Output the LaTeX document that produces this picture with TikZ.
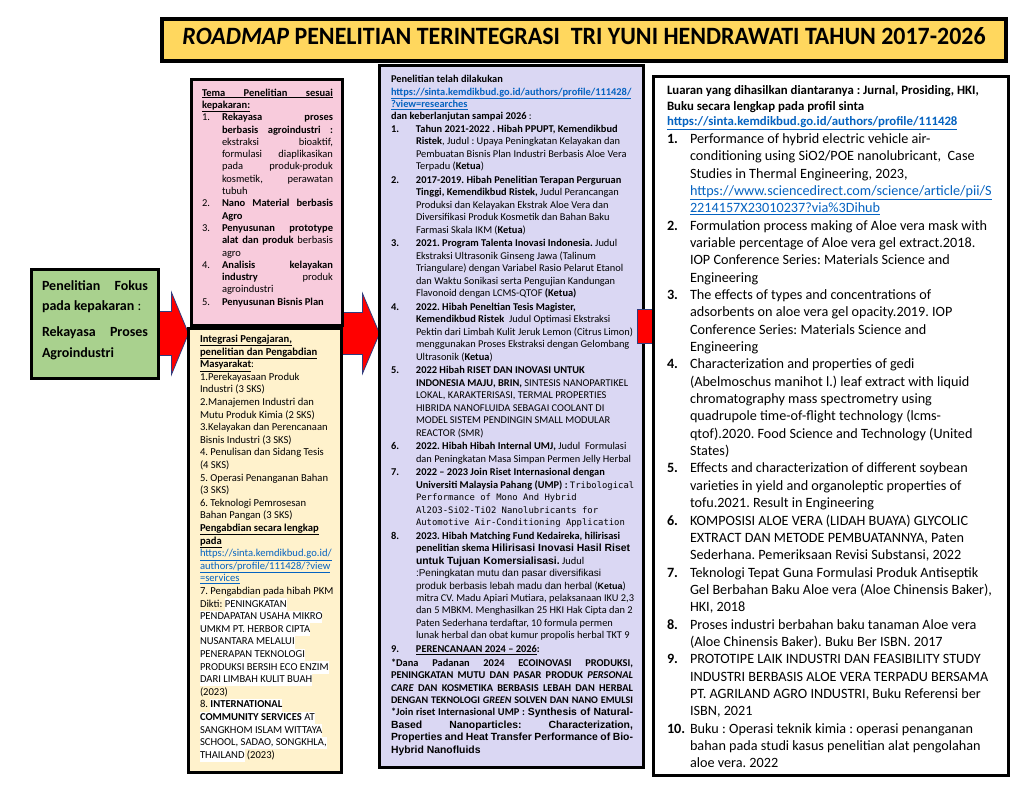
\documentclass[tikz,border=0pt]{standalone}
\usepackage{fontspec}
\setmainfont{Carlito}
\newfontfamily\arialtxt{Liberation Sans}
\newfontfamily\monotxt{DejaVu Sans Mono}
\usepackage{graphicx}
\usepackage{tikz}
\usetikzlibrary{calc,backgrounds}
\definecolor{TitleGold}{HTML}{FFD75E}
\definecolor{FocusGreen}{HTML}{A9D18E}
\definecolor{TemaPink}{HTML}{F8CBDC}
\definecolor{IntegYellow}{HTML}{FFF2CC}
\definecolor{RisetLav}{HTML}{DAD7F3}
\definecolor{ArrRed}{HTML}{FF0000}
\definecolor{ArrEdge}{HTML}{2F3C7E}
\definecolor{LinkBlue}{HTML}{0563C1}
\setlength{\parindent}{0pt}
\frenchspacing
\newcommand{\natsp}{\spaceskip=0pt\xspaceskip=0pt\relax}
\newcommand{\lnk}[1]{\textcolor{LinkBlue}{\underline{#1}}}
\newcommand{\nb}[2][20pt]{\makebox[#1][l]{#2}}
\newcommand{\jl}[2]{\makebox[#1][s]{#2}}
\newcommand{\hlw}[1]{{\setlength{\fboxsep}{0pt}\colorbox{white}{\strut#1}}}
\newcommand{\arB}[1]{{\arialtxt\bfseries\fontsize{10.4}{\baselineskip}\selectfont #1}}
\newcommand{\arR}[1]{{\arialtxt\fontsize{10}{\baselineskip}\selectfont #1}}
\newcommand{\arK}[1]{{\arialtxt\bfseries\fontsize{9}{\baselineskip}\selectfont #1}}
\newcommand{\mono}[1]{{\monotxt\fontsize{8.9}{\baselineskip}\selectfont #1}}

\begin{document}
\begin{tikzpicture}[
  x=1pt, y=-1pt,
  box/.style={draw=black,line width=3pt,inner sep=0pt,outer sep=0pt,anchor=north west},
  txt/.style={inner sep=0pt,outer sep=0pt,align=flush left,anchor=north west},
  blockarr/.style={fill=ArrRed,draw=ArrEdge,line width=0.8pt,line join=miter},
  pics/bigarrow/.style n args={3}{code={
    \draw[blockarr] (0,0) -- (-17,-#3) -- (-17,-#2) -- (-17-#1,-#2) -- (-17-#1,#2) -- (-17,#2) -- (-17,#3) -- cycle;
  }}
]
\useasboundingbox (0,0) rectangle (1024,791);

% title bar
\node[box,line width=4pt,fill=TitleGold,minimum width=844pt,minimum height=42pt] (title) at (162,19) {};
\node[inner sep=0pt,font=\bfseries] (titletxt) at ([yshift=4pt]title.center)
  {\resizebox{803pt}{17pt}{\textit{ROADMAP} PENELITIAN TERINTEGRASI\ \ TRI YUNI HENDRAWATI TAHUN 2017-2026}};

% focus
\node[box,fill=FocusGreen,minimum width=127pt,minimum height=109pt] (focus) at (31.5,269.5) {};
\node[txt,text width=120pt,font=\fontsize{14}{20.5}\selectfont\bfseries] (focustxt) at ([xshift=10.5pt,yshift=-11pt]focus.north west)
  {\natsp\jl{106pt}{Penelitian Fokus}\\
   pada kepakaran \textmd{:}\\[5.5pt]
   \jl{106pt}{Rekayasa Proses}\\
   Agroindustri};

% tema penelitian
\node[box,fill=TemaPink,minimum width=151pt,minimum height=246pt] (tema) at (191.5,79.5) {};
\node[txt,text width=150pt,font=\fontsize{10.5}{12.3}\selectfont] (tematxt) at ([xshift=10.5pt,yshift=-9.3pt]tema.north west)
  {\natsp\underline{\jl{131pt}{\textbf{Tema Penelitian sesuai}}}\\
   \underline{\textbf{kepakaran:}}\\
   \nb{1.}\jl{111pt}{\textbf{Rekayasa proses}}\\
   \nb{}\jl{111pt}{\textbf{berbasis agroindustri :}}\\
   \nb{}\jl{111pt}{ekstraksi bioaktif,}\\
   \nb{}\jl{111pt}{formulasi diaplikasikan}\\
   \nb{}\jl{111pt}{pada produk-produk}\\
   \nb{}\jl{111pt}{kosmetik, perawatan}\\
   \nb{}tubuh\\
   \nb{2.}\jl{111pt}{\textbf{Nano Material berbasis}}\\
   \nb{}\textbf{Agro}\\
   \nb{3.}\jl{111pt}{\textbf{Penyusunan prototype}}\\
   \nb{}\jl{111pt}{\textbf{alat dan produk} berbasis}\\
   \nb{}agro\\
   \nb{4.}\jl{111pt}{\textbf{Analisis kelayakan}}\\
   \nb{}\jl{111pt}{\textbf{industry} produk}\\
   \nb{}agroindustri\\
   \nb{5.}\textbf{Penyusunan Bisnis Plan}};

% integrasi
\node[box,fill=IntegYellow,minimum width=153pt,minimum height=444pt] (integ) at (188.5,328.5) {};
\node[txt,text width=150pt,font=\fontsize{10.6}{12.6}\selectfont] (integtxt) at ([xshift=11.5pt,yshift=-6.5pt]integ.north west)
  {\natsp\underline{\textbf{Integrasi Pengajaran,}}\\
   \underline{\textbf{penelitian dan Pengabdian}}\\
   \underline{\textbf{Masyarakat}}:\\
   1.Perekayasaan Produk\\
   Industri (3 SKS)\\
   2.Manajemen Industri dan\\
   Mutu Produk Kimia (2 SKS)\\
   3.Kelayakan dan Perencanaan\\
   Bisnis Industri (3 SKS)\\
   4. Penulisan dan Sidang Tesis\\
   (4 SKS)\\
   5. Operasi Penanganan Bahan\\
   (3 SKS)\\
   6. Teknologi Pemrosesan\\
   Bahan Pangan (3 SKS)\\
   \underline{\textbf{Pengabdian secara lengkap}}\\
   \underline{\textbf{pada}}\\
   \lnk{https://sinta.kemdikbud.go.id/}\\
   \lnk{authors/profile/111428/?view}\\
   \lnk{=services}\\
   7. Pengabdian pada hibah PKM\\
   Dikti: \hlw{PENINGKATAN}\\
   \hlw{PENDAPATAN USAHA MIKRO}\\
   \hlw{UMKM PT. HERBOR CIPTA}\\
   \hlw{NUSANTARA MELALUI}\\
   \hlw{PENERAPAN TEKNOLOGI}\\
   \hlw{PRODUKSI BERSIH ECO ENZIM}\\
   \hlw{DARI LIMBAH KULIT BUAH}\\
   (2023)\\
   8. \hlw{\textbf{INTERNATIONAL}}\\
   \hlw{\textbf{COMMUNITY SERVICES} AT}\\
   \hlw{SANGKHOM ISLAM WITTAYA}\\
   \hlw{SCHOOL, SADAO, SONGKHLA,}\\
   \hlw{THAILAND} (2023)};

% riset
\node[box,fill=RisetLav,minimum width=264pt,minimum height=702pt] (riset) at (379.5,65.5) {};
\node[txt,text width=260pt,font=\fontsize{10.4}{12.45}\selectfont] (risettxt) at ([xshift=11.5pt,yshift=-9.8pt]riset.north west)
  {\natsp\textbf{Penelitian telah dilakukan}\\
   \lnk{\textbf{https://sinta.kemdikbud.go.id/authors/profile/111428/}}\\
   \lnk{\textbf{?view=researches}}\\
   \textbf{dan keberlanjutan sampai 2026} :\\
   \nb[25pt]{\textbf{1.}}\textbf{Tahun 2021-2022 . Hibah PPUPT, Kemendikbud}\\
   \nb[25pt]{}\textbf{Ristek}, Judul : Upaya Peningkatan Kelayakan dan\\
   \nb[25pt]{}Pembuatan Bisnis Plan Industri Berbasis Aloe Vera\\
   \nb[25pt]{}Terpadu (\textbf{Ketua})\\[1.2pt]
   \nb[25pt]{\textbf{2.}}\textbf{2017-2019. Hibah Penelitian Terapan Perguruan}\\
   \nb[25pt]{}\textbf{Tinggi, Kemendikbud Ristek,} Judul Perancangan\\
   \nb[25pt]{}Produksi dan Kelayakan Ekstrak Aloe Vera dan\\
   \nb[25pt]{}Diversifikasi Produk Kosmetik dan Bahan Baku\\
   \nb[25pt]{}Farmasi Skala IKM (\textbf{Ketua})\\[1.2pt]
   \nb[25pt]{\textbf{3.}}\textbf{2021. Program Talenta Inovasi Indonesia.} Judul\\
   \nb[25pt]{}Ekstraksi Ultrasonik Ginseng Jawa (Talinum\\
   \nb[25pt]{}Triangulare) dengan Variabel Rasio Pelarut Etanol\\
   \nb[25pt]{}dan Waktu Sonikasi serta Pengujian Kandungan\\
   \nb[25pt]{}Flavonoid dengan LCMS-QTOF \textbf{(Ketua)}\\[1.2pt]
   \nb[25pt]{\textbf{4.}}\textbf{2022. Hibah Peneltian Tesis Magister,}\\
   \nb[25pt]{}\textbf{Kemendikbud Ristek}\ \ Judul Optimasi Ekstraksi\\
   \nb[25pt]{}Pektin dari Limbah Kulit Jeruk Lemon (Citrus Limon)\\
   \nb[25pt]{}menggunakan Proses Ekstraksi dengan Gelombang\\
   \nb[25pt]{}Ultrasonik (\textbf{Ketua})\\[1.2pt]
   \nb[25pt]{\textbf{5.}}\textbf{2022 Hibah RISET DAN INOVASI UNTUK}\\
   \nb[25pt]{}\textbf{INDONESIA MAJU, BRIN,} SINTESIS NANOPARTIKEL\\
   \nb[25pt]{}LOKAL, KARAKTERISASI, TERMAL PROPERTIES\\
   \nb[25pt]{}HIBRIDA NANOFLUIDA SEBAGAI COOLANT DI\\
   \nb[25pt]{}MODEL SISTEM PENDINGIN SMALL MODULAR\\
   \nb[25pt]{}REACTOR (SMR)\\[1.2pt]
   \nb[25pt]{\textbf{6.}}\textbf{2022. Hibah Hibah Internal UMJ,} Judul\ \ Formulasi\\
   \nb[25pt]{}dan Peningkatan Masa Simpan Permen Jelly Herbal\\[1.2pt]
   \nb[25pt]{\textbf{7.}}\textbf{2022 – 2023 Join Riset Internasional dengan}\\
   \nb[25pt]{}\textbf{Universiti Malaysia Pahang (UMP) :} \mono{Tribological}\\
   \nb[25pt]{}\mono{Performance of Mono And Hybrid}\\
   \nb[25pt]{}\mono{Al2O3-SiO2-TiO2 Nanolubricants for}\\
   \nb[25pt]{}\mono{Automotive Air-Conditioning Application}\\[1.2pt]
   \nb[25pt]{\textbf{8.}}\textbf{2023. Hibah Matching Fund Kedaireka, hilirisasi}\\
   \nb[25pt]{}\textbf{penelitian skema} \arB{Hilirisasi Inovasi Hasil Riset}\\
   \nb[25pt]{}\arB{untuk Tujuan Komersialisasi.} Judul\\
   \nb[25pt]{}\arR{:Peningkatan mutu dan pasar diversifikasi}\\
   \nb[25pt]{}\arR{produk berbasis lebah madu dan herbal} (\arK{Ketua})\\
   \nb[25pt]{}mitra CV. Madu Apiari Mutiara, pelaksanaan IKU 2,3\\
   \nb[25pt]{}dan 5 MBKM. Menghasilkan 25 HKI Hak Cipta dan 2\\
   \nb[25pt]{}Paten Sederhana terdaftar, 10 formula permen\\
   \nb[25pt]{}lunak herbal dan obat kumur propolis herbal TKT 9\\[1.2pt]
   \nb[25pt]{\textbf{9.}}\textbf{\underline{PERENCANAAN 2024 – 2026}:}\\[1.2pt]
   \jl{242pt}{\textbf{*Dana Padanan 2024 ECOINOVASI PRODUKSI,}}\\
   \jl{242pt}{\textbf{PENINGKATAN MUTU DAN PASAR PRODUK \textit{PERSONAL}}}\\
   \jl{242pt}{\textbf{\textit{CARE} DAN KOSMETIKA BERBASIS LEBAH DAN HERBAL}}\\
   \jl{242pt}{\fontsize{10.1}{\baselineskip}\selectfont\textbf{DENGAN TEKNOLOGI \textit{GREEN} SOLVEN DAN NANO EMULSI}}\\
   \jl{242pt}{\textbf{*Join riset Internasional UMP :} \arB{Synthesis of Natural-}}\\
   \jl{242pt}{\arB{Based Nanoparticles: Characterization,}}\\
   \jl{242pt}{\arB{Properties and Heat Transfer Performance of Bio-}}\\
   \arB{Hybrid Nanofluids}};

% arrow into the outputs box
\coordinate (tip3) at ($(riset.north east)+(36,261)$);
\pic at (tip3) {bigarrow={25}{17}{38}};

% luaran
\node[box,fill=white,minimum width=355pt,minimum height=699pt] (luaran) at (653.5,76.5) {};
\node[txt,text width=345pt,font=\fontsize{14.2}{17.35}\selectfont] (luarantxt) at ([xshift=13.5pt,yshift=-9.5pt]luaran.north west)
  {\natsp{\fontsize{12.8}{15.5}\selectfont\bfseries
    Luaran yang dihasilkan diantaranya : Jurnal, Prosiding, HKI,\\
    Buku secara lengkap pada profil sinta\\
    \lnk{https://sinta.kemdikbud.go.id/authors/profile/111428}\\}
   \nb[23pt]{\textbf{1.}}Performance of hybrid electric vehicle air-\\
   \nb[23pt]{}conditioning using SiO2/POE nanolubricant,\ \ Case\\
   \nb[23pt]{}Studies in Thermal Engineering, 2023,\\
   \nb[23pt]{}\lnk{https://www.sciencedirect.com/science/article/pii/S}\\
   \nb[23pt]{}\lnk{2214157X23010237?via\%3Dihub}\\
   \nb[23pt]{\textbf{2.}}Formulation process making of Aloe vera mask with\\
   \nb[23pt]{}variable percentage of Aloe vera gel extract.2018.\\
   \nb[23pt]{}IOP Conference Series: Materials Science and\\
   \nb[23pt]{}Engineering\\
   \nb[23pt]{\textbf{3.}}The effects of types and concentrations of\\
   \nb[23pt]{}adsorbents on aloe vera gel opacity.2019. IOP\\
   \nb[23pt]{}Conference Series: Materials Science and\\
   \nb[23pt]{}Engineering\\
   \nb[23pt]{\textbf{4.}}Characterization and properties of gedi\\
   \nb[23pt]{}(Abelmoschus manihot l.) leaf extract with liquid\\
   \nb[23pt]{}chromatography mass spectrometry using\\
   \nb[23pt]{}quadrupole time-of-flight technology (lcms-\\
   \nb[23pt]{}qtof).2020. Food Science and Technology (United\\
   \nb[23pt]{}States)\\
   \nb[23pt]{\textbf{5.}}Effects and characterization of different soybean\\
   \nb[23pt]{}varieties in yield and organoleptic properties of\\
   \nb[23pt]{}tofu.2021. Result in Engineering\\
   \nb[23pt]{\textbf{6.}}KOMPOSISI ALOE VERA (LIDAH BUAYA) GLYCOLIC\\
   \nb[23pt]{}EXTRACT DAN METODE PEMBUATANNYA, Paten\\
   \nb[23pt]{}Sederhana. Pemeriksaan Revisi Substansi, 2022\\
   \nb[23pt]{\textbf{7.}}Teknologi Tepat Guna Formulasi Produk Antiseptik\\
   \nb[23pt]{}Gel Berbahan Baku Aloe vera (Aloe Chinensis Baker),\\
   \nb[23pt]{}HKI, 2018\\
   \nb[23pt]{\textbf{8.}}Proses industri berbahan baku tanaman Aloe vera\\
   \nb[23pt]{}(Aloe Chinensis Baker). Buku Ber ISBN. 2017\\
   \nb[23pt]{\textbf{9.}}PROTOTIPE LAIK INDUSTRI DAN FEASIBILITY STUDY\\
   \nb[23pt]{}INDUSTRI BERBASIS ALOE VERA TERPADU BERSAMA\\
   \nb[23pt]{}PT. AGRILAND AGRO INDUSTRI, Buku Referensi ber\\
   \nb[23pt]{}ISBN, 2021\\
   \nb[23pt]{\textbf{10.}}Buku : Operasi teknik kimia : operasi penanganan\\
   \nb[23pt]{}bahan pada studi kasus penelitian alat pengolahan\\
   \nb[23pt]{}aloe vera. 2022};

% arrows between the first three columns, under the boxes
\begin{scope}[on background layer]
  \fill[white] (0,0) rectangle (1024,791);
  \coordinate (tip1) at ($(integ.north west)+(0,5)$);
  \pic at (tip1) {bigarrow={22}{22}{41}};
  \coordinate (tip2) at (riset.west |- tip1);
  \pic at (tip2) {bigarrow={28}{21}{40}};
\end{scope}
\end{tikzpicture}
\end{document}
